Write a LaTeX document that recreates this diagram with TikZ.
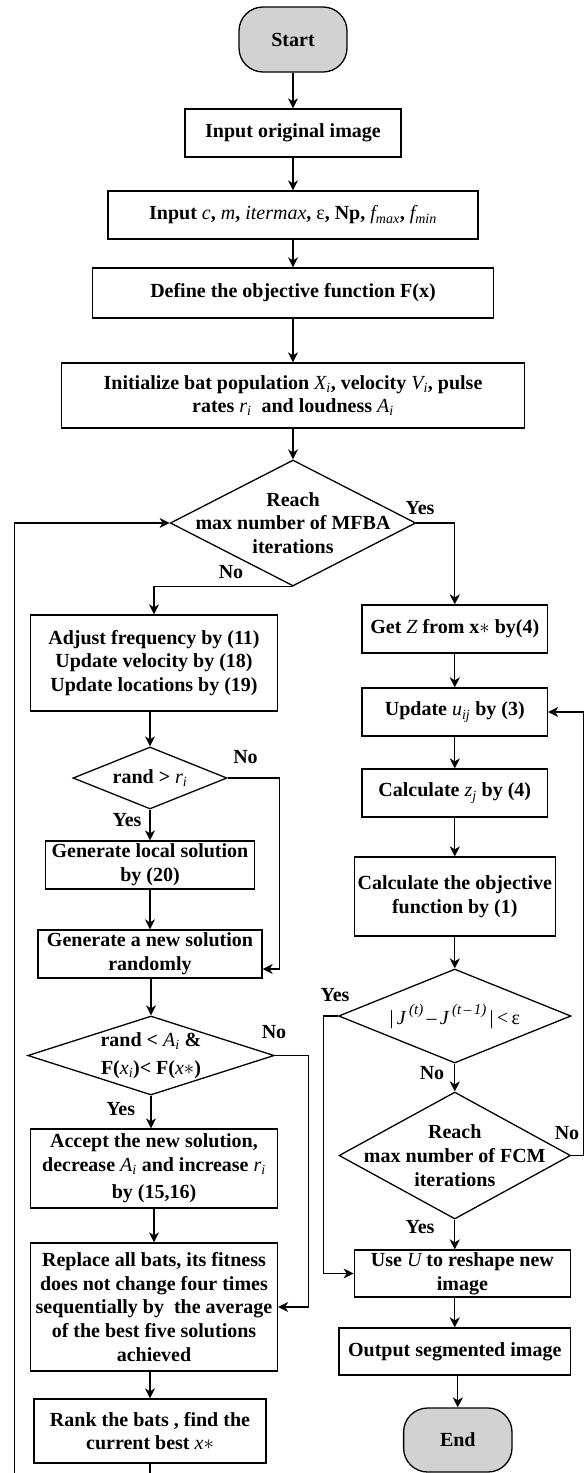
\documentclass[tikz,border=0pt]{standalone}
\usepackage{fontspec}
\setmainfont{Liberation Serif}
\usetikzlibrary{arrows.meta,shapes.geometric,calc}
\definecolor{termgray}{RGB}{210,210,210}
\newcommand\mv[1]{{\mdseries\itshape #1}}
\newcommand\msb[1]{\textsubscript{\mdseries\itshape #1}}
\newcommand\msp[1]{\raisebox{0.5em}{\fontsize{15}{15}\selectfont\mdseries\itshape #1}}
\begin{document}
\begin{tikzpicture}[x=1pt,y=-1pt,
  every node/.style={font=\fontsize{20}{23.7}\selectfont\bfseries},
  proc/.style={draw, line width=1.3pt, rectangle, inner sep=0pt, align=center},
  term/.style={draw, line width=1.3pt, rectangle, rounded corners=24pt, fill=termgray, inner sep=0pt},
  dec/.style={draw, line width=1.3pt, diamond, inner sep=0pt},
  lbl/.style={inner sep=0pt, align=center},
  arr/.style={line width=1.3pt, -{Stealth[length=10pt,width=10pt,inset=3pt]}},
]
\path[use as bounding box] (0,0) rectangle (586,1473);
\clip (0,0) rectangle (586,1473);

% main column
\node[term, minimum width=108pt, minimum height=65pt] (start) at (293,39.5) {Start};
\node[proc, minimum width=216pt, minimum height=48pt] (in1) at (293,133) {Input original image};
\node[proc, minimum width=370pt, minimum height=48pt] (in2) at (293,215) {Input \mv{c}, \mv{m}, \mv{itermax}, {\mdseries ε}, Np, \mv{f}\msb{max}, \mv{f}\msb{min}};
\node[proc, minimum width=401pt, minimum height=50pt] (def) at (293,293) {Define the objective function F(x)};
\node[proc, minimum width=462.6pt, minimum height=65pt] (init) at (293,395.5) {Initialize bat population \mv{X}\msb{i}, velocity \mv{V}\msb{i}, pulse\\ rates \mv{r}\msb{i}~ and loudness \mv{A}\msb{i}};
\node[dec, minimum width=245.5pt, minimum height=126pt] (d1) at (293,523) {};
\node[lbl] (d1t) at (d1) {Reach\\max number of MFBA\\iterations};

% left column
\node[proc, minimum width=247pt, minimum height=96pt] (adj) at (154,663) {Adjust frequency by (11)\\Update velocity by (18)\\Update locations by (19)};
\node[dec, minimum width=154pt, minimum height=62pt] (d2) at (150,778) {};
\node[lbl] (d2t) at (d2) {rand > \mv{r}\msb{i}};
\node[proc, minimum width=209pt, minimum height=48pt] (gl) at (150,865) {Generate local solution\\by (20)};
\node[proc, minimum width=224pt, minimum height=48pt] (gn) at (150,954) {Generate a new solution\\randomly};
\node[dec, minimum width=246.5pt, minimum height=79pt] (d3) at (151,1055.5) {};
\node[lbl] (d3t) at (d3) {rand < \mv{A}\msb{i} \&\\[4pt] F(\mv{x}\msb{i})< F(\mv{x}$\ast$)};
\node[proc, minimum width=247pt, minimum height=79pt] (acc) at (154,1168.5) {Accept the new solution,\\decrease \mv{A}\msb{i} and increase \mv{r}\msb{i}\\[4pt]by (15,16)};
\node[proc, minimum width=247pt, minimum height=128pt] (rep) at (154,1307) {Replace all bats, its fitness\\does not change four times\\sequentially by~ the average\\of the best five solutions\\achieved};
\node[proc, minimum width=232pt, minimum height=64pt] (rank) at (150,1431) {Rank the bats , find the\\current best \mv{x}$\ast$};

% right column
\node[proc, minimum width=185.5pt, minimum height=48pt] (getz) at (454.8,629) {Get \mv{Z} from x$\ast$ by(4)};
\node[proc, minimum width=185.5pt, minimum height=48pt] (upd) at (454.8,712) {Update \mv{u}\msb{ij} by (3)};
\node[proc, minimum width=185.5pt, minimum height=48pt] (calz) at (454.8,793) {Calculate \mv{z}\msb{j} by (4)};
\node[proc, minimum width=200.7pt, minimum height=79pt] (cobj) at (454.8,896.5) {Calculate the objective\\function by (1)};
\node[dec, minimum width=232.4pt, minimum height=94pt] (d4) at (454.8,1016) {};
\node[lbl] (d4t) at (d4) {{\mdseries |}\,\mv{J}\,\msp{(t)}\,{\mdseries –}\,\mv{J}\,\msp{(t\,–\,1)}\,{\mdseries |\,<\,ε}};
\node[dec, minimum width=231.6pt, minimum height=127pt] (d5) at (454.8,1155.5) {};
\node[lbl] (d5t) at (d5) {Reach\\max number of FCM\\iterations};
\node[proc, minimum width=216.3pt, minimum height=47pt] (useu) at (462.4,1273.5) {Use \mv{U} to reshape new\\image};
\node[proc, minimum width=231.6pt, minimum height=47pt] (out) at (454.8,1351.5) {Output segmented image};
\node[term, minimum width=108.4pt, minimum height=64pt] (end) at (457.8,1440) {End};

% labels
\node[lbl] (y1) at (420,508) {Yes};
\node[lbl] (n1) at (231,572) {No};
\node[lbl] (n2) at (245.5,757) {No};
\node[lbl] (y2) at (127,820) {Yes};
\node[lbl] (n3) at (274,1032) {No};
\node[lbl] (y3) at (120.7,1109) {Yes};
\node[lbl] (y4) at (335,995) {Yes};
\node[lbl] (n4) at (432,1073) {No};
\node[lbl] (n5) at (567,1133) {No};
\node[lbl] (y5) at (420,1227) {Yes};

% connectors
\draw[arr] (start) -- (in1);
\draw[arr] (in1) -- (in2);
\draw[arr] (in2) -- (def);
\draw[arr] (def) -- (init);
\draw[arr] (init) -- (d1);
\draw[arr] (d1.east) -| (getz.north);
\draw[arr] (d1.south) -| (adj.north);
\draw[arr] (adj.south -| d2.north) -- (d2.north);
\draw[arr] (d2) -- (gl);
\draw[arr] (gl) -- (gn);
\draw[arr] (d2.east) -- ++(51.7,0) |- ([yshift=-15pt]gn.east);
\draw[arr] (gn.south -| d3.north) -- (d3.north);
\draw[arr] (d3.south) -- (d3.south |- acc.north);
\draw[arr] (d3.east) -- ++(33.6,0) |- (rep.east);
\draw[arr] (acc) -- (rep);
\draw[arr] (rep.south -| rank.north) -- (rank.north);
\draw[arr] (rank.south) -- ++(0,60) -| ([xshift=-155pt]d1.west) -- (d1.west);

\draw[arr] (getz) -- (upd);
\draw[arr] (upd) -- (calz);
\draw[arr] (calz) -- (cobj);
\draw[arr] (cobj) -- (d4);
\draw[arr] (d4) -- (d5);
\draw[arr] (d4.west) -- ++(-14.6,0) |- (useu.west);
\draw[arr] (d5.east) -- ++(12.4,0) |- (upd.east);
\draw[arr] (d5.south) -- (d5.south |- useu.north);
\draw[arr] (useu.south -| out.north) -- (out.north);
\draw[arr] (out.south -| end.north) -- (end.north);
\end{tikzpicture}
\end{document}
